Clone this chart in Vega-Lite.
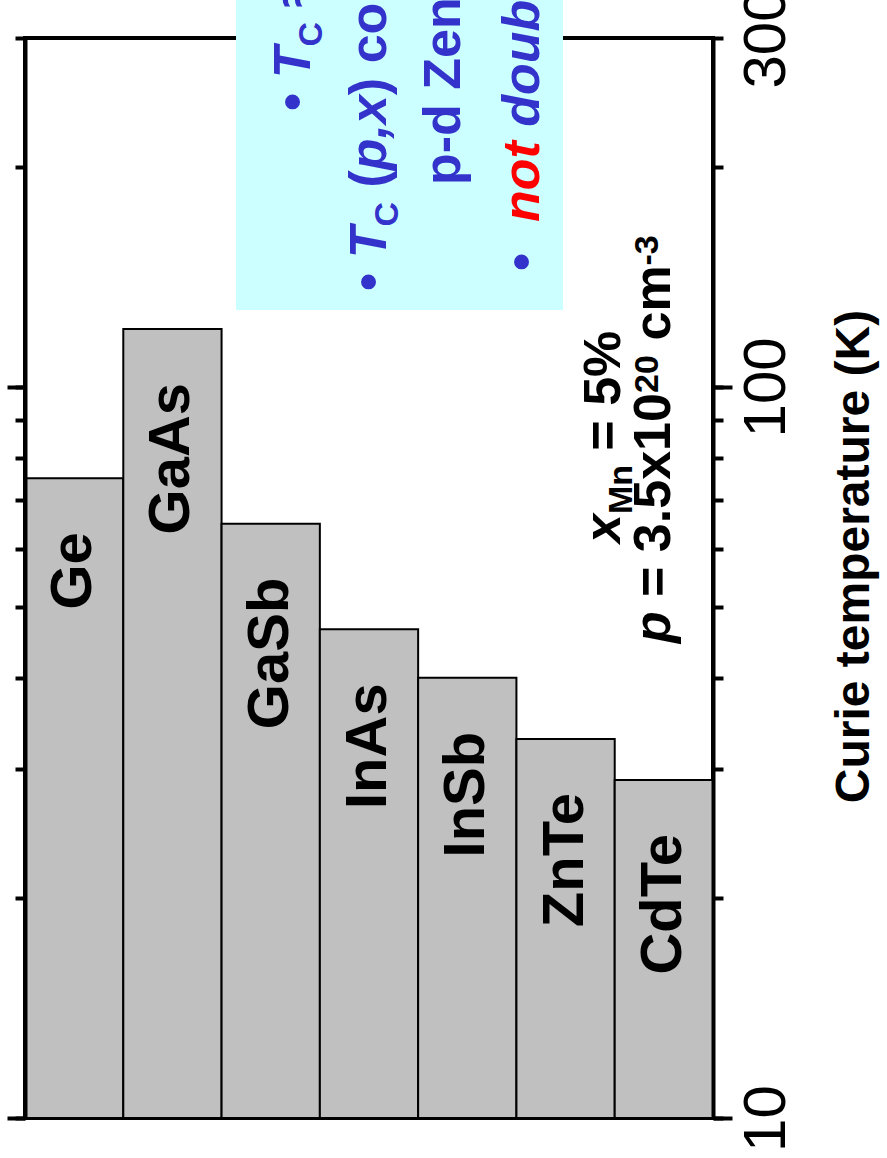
{
  "$schema": "https://vega.github.io/schema/vega-lite/v6.json",
  "width": 688,
  "height": 1080,
  "autosize": {"type": "none"},
  "padding": {"left": 25, "top": 38, "right": 174, "bottom": 40},
  "background": "white",
  "config": {
    "view": {"stroke": "black", "strokeWidth": 4},
    "font": "Liberation Sans",
    "text": {"font": "Liberation Sans"}
  },
  "datasets": {
    "bars": [
      {"material": "Ge", "tc": 75},
      {"material": "GaAs", "tc": 120},
      {"material": "GaSb", "tc": 65},
      {"material": "InAs", "tc": 46.6},
      {"material": "InSb", "tc": 40},
      {"material": "ZnTe", "tc": 33},
      {"material": "CdTe", "tc": 29}
    ],
    "box": [
      {"left": 2.147, "right": 5.474, "low": 127.4, "high": 400}
    ],
    "notes": [
      {"text": "•", "panel": "legend", "role": "plain", "kind": "normal", "pos": 2.900, "at": 238.4},
      {"text": "T", "panel": "legend", "role": "symbol", "kind": "normal", "pos": 2.900, "at": 264.2},
      {"text": "C", "panel": "legend", "role": "plain", "kind": "sub", "pos": 3.022, "at": 292.1},
      {"text": "≈ 300 K", "panel": "legend", "role": "plain", "kind": "normal", "pos": 2.900, "at": 330.2},
      {"text": "•", "panel": "legend", "role": "plain", "kind": "normal", "pos": 3.672, "at": 135.2},
      {"text": "T", "panel": "legend", "role": "symbol", "kind": "normal", "pos": 3.672, "at": 149.9},
      {"text": "C", "panel": "legend", "role": "plain", "kind": "sub", "pos": 3.794, "at": 165.7},
      {"text": "(", "panel": "legend", "role": "plain", "kind": "normal", "pos": 3.672, "at": 187.3},
      {"text": "p,x", "panel": "legend", "role": "symbol", "kind": "normal", "pos": 3.672, "at": 197.8},
      {"text": ") computed within", "panel": "legend", "role": "plain", "kind": "normal", "pos": 3.672, "at": 250.6},
      {"text": "p-d Zener model", "panel": "legend", "role": "plain", "kind": "normal", "pos": 4.425, "at": 188.8},
      {"text": "•", "panel": "legend", "role": "plain", "kind": "normal", "pos": 5.229, "at": 144.0},
      {"text": "not", "panel": "legend", "role": "negation", "kind": "normal", "pos": 5.229, "at": 168.0},
      {"text": "double exchange", "panel": "legend", "role": "claim", "kind": "normal", "pos": 5.229, "at": 226.9},
      {"text": "x", "panel": "note", "role": "symbol", "kind": "normal", "pos": 6.053, "at": 61.15},
      {"text": "Mn", "panel": "note", "role": "plain", "kind": "sub", "pos": 6.176, "at": 66.99},
      {"text": "= 5%", "panel": "note", "role": "plain", "kind": "normal", "pos": 6.053, "at": 81.8},
      {"text": "p", "panel": "note", "role": "symbol", "kind": "normal", "pos": 6.562, "at": 44.63},
      {"text": "= 3.5x10", "panel": "note", "role": "plain", "kind": "normal", "pos": 6.562, "at": 51.6},
      {"text": "20", "panel": "note", "role": "plain", "kind": "sup", "pos": 6.440, "at": 98.1},
      {"text": "cm", "panel": "note", "role": "plain", "kind": "normal", "pos": 6.562, "at": 115.7},
      {"text": "-3", "panel": "note", "role": "plain", "kind": "sup", "pos": 6.440, "at": 146.5}
    ]
  },
  "layer": [
    {
      "data": {"name": "bars"},
      "mark": {"type": "bar", "fill": "#c0c0c0", "stroke": "black", "strokeWidth": 2},
      "encoding": {
        "x": {"field": "material", "type": "nominal", "sort": null, "scale": {"paddingInner": 0, "paddingOuter": 0}, "axis": null},
        "y": {
          "field": "tc", "type": "quantitative",
          "scale": {"type": "log", "domain": [10, 300], "nice": false},
          "axis": {
            "orient": "right",
            "values": [10, 20, 30, 40, 50, 60, 70, 80, 90, 100, 200, 300],
            "grid": false,
            "domain": true, "domainWidth": 4, "domainColor": "black",
            "ticks": true, "tickSize": 10, "tickWidth": 4, "tickColor": "black",
            "labelExpr": "datum.value === 10 ? '10' : datum.value === 100 ? '100' : datum.value === 300 ? '300' : ''",
            "labelAngle": 270, "labelAlign": "center", "labelBaseline": "top",
            "labelFontSize": 60, "labelFont": "Liberation Sans", "labelColor": "black",
            "labelPadding": 14, "labelOverlap": false, "labelFlush": false, "labelBound": false,
            "title": "Curie temperature (K)",
            "titleFont": "Liberation Sans", "titleFontSize": 48, "titleFontWeight": "bold", "titleColor": "black",
            "titleAngle": 270, "titleBaseline": "top", "titlePadding": 34, "titleY": 518,
            "zindex": 1
          }
        },
        "y2": {"datum": 10}
      }
    },
    {
      "data": {"name": "bars"},
      "mark": {"type": "text", "angle": 270, "align": "right", "baseline": "middle", "dx": -54, "fontSize": 58, "fontWeight": "bold", "font": "Liberation Sans", "color": "black"},
      "encoding": {
        "x": {"field": "material", "type": "nominal", "sort": null, "scale": {"paddingInner": 0, "paddingOuter": 0}, "axis": null},
        "y": {
          "field": "tc", "type": "quantitative",
          "scale": {"type": "log", "domain": [10, 300], "nice": false},
          "axis": {
            "orient": "right", "values": [10, 100], "grid": false,
            "domain": false, "labels": false, "title": null,
            "ticks": true, "tickSize": 19, "tickWidth": 4, "tickColor": "black",
            "zindex": 1
          }
        },
        "text": {"field": "material"}
      }
    },
    {
      "data": {"name": "box"},
      "mark": {"type": "rect", "fill": "#ccffff"},
      "encoding": {
        "x": {"field": "left", "type": "quantitative", "scale": {"domain": [0, 7], "nice": false, "zero": false}, "axis": null},
        "x2": {"field": "right"},
        "y": {
          "field": "low", "type": "quantitative",
          "scale": {"type": "log", "domain": [10, 300], "nice": false},
          "axis": {
            "orient": "left",
            "values": [10, 20, 30, 40, 50, 60, 70, 80, 90, 100, 200, 300],
            "grid": false,
            "domain": true, "domainWidth": 4, "domainColor": "black",
            "labels": false, "title": null,
            "ticks": true, "tickSize": 10, "tickWidth": 4, "tickColor": "black",
            "zindex": 1
          }
        },
        "y2": {"field": "high"}
      }
    },
    {
      "data": {"name": "notes"},
      "transform": [{"filter": "datum.panel === 'legend' && datum.role === 'plain'"}],
      "mark": {"type": "text", "angle": 270, "align": "left", "baseline": "alphabetic", "fontWeight": "bold", "font": "Liberation Sans", "color": "#3333cc"},
      "encoding": {
        "x": {"field": "pos", "type": "quantitative", "scale": {"domain": [0, 7], "nice": false, "zero": false}, "axis": null},
        "y": {
          "field": "at", "type": "quantitative",
          "scale": {"type": "log", "domain": [10, 300], "nice": false},
          "axis": {
            "orient": "left", "values": [10, 100], "grid": false,
            "domain": false, "labels": false, "title": null,
            "ticks": true, "tickSize": 18, "tickWidth": 4, "tickColor": "black",
            "zindex": 1
          }
        },
        "text": {"field": "text"},
        "size": {"condition": {"test": "datum.kind !== 'normal'", "value": 34}, "value": 52}
      }
    },
    {
      "data": {"name": "notes"},
      "transform": [{"filter": "datum.panel === 'legend' && (datum.role === 'symbol' || datum.role === 'claim')"}],
      "mark": {"type": "text", "angle": 270, "align": "left", "baseline": "alphabetic", "fontWeight": "bold", "fontStyle": "italic", "font": "Liberation Sans", "color": "#3333cc"},
      "encoding": {
        "x": {"field": "pos", "type": "quantitative", "scale": {"domain": [0, 7], "nice": false, "zero": false}, "axis": null},
        "y": {"field": "at", "type": "quantitative", "scale": {"type": "log", "domain": [10, 300], "nice": false}, "axis": null},
        "text": {"field": "text"},
        "size": {"condition": {"test": "datum.kind !== 'normal'", "value": 34}, "value": 52}
      }
    },
    {
      "data": {"name": "notes"},
      "transform": [{"filter": "datum.panel === 'legend' && datum.role === 'negation'"}],
      "mark": {"type": "text", "angle": 270, "align": "left", "baseline": "alphabetic", "fontWeight": "bold", "fontStyle": "italic", "font": "Liberation Sans", "color": "#ff0000"},
      "encoding": {
        "x": {"field": "pos", "type": "quantitative", "scale": {"domain": [0, 7], "nice": false, "zero": false}, "axis": null},
        "y": {"field": "at", "type": "quantitative", "scale": {"type": "log", "domain": [10, 300], "nice": false}, "axis": null},
        "text": {"field": "text"},
        "size": {"value": 52}
      }
    },
    {
      "data": {"name": "notes"},
      "transform": [{"filter": "datum.panel === 'note' && datum.role === 'plain'"}],
      "mark": {"type": "text", "angle": 270, "align": "left", "baseline": "alphabetic", "fontWeight": "bold", "font": "Liberation Sans", "color": "black"},
      "encoding": {
        "x": {"field": "pos", "type": "quantitative", "scale": {"domain": [0, 7], "nice": false, "zero": false}, "axis": null},
        "y": {"field": "at", "type": "quantitative", "scale": {"type": "log", "domain": [10, 300], "nice": false}, "axis": null},
        "text": {"field": "text"},
        "size": {"condition": {"test": "datum.kind !== 'normal'", "value": 34}, "value": 52}
      }
    },
    {
      "data": {"name": "notes"},
      "transform": [{"filter": "datum.panel === 'note' && datum.role === 'symbol'"}],
      "mark": {"type": "text", "angle": 270, "align": "left", "baseline": "alphabetic", "fontWeight": "bold", "fontStyle": "italic", "font": "Liberation Sans", "color": "black"},
      "encoding": {
        "x": {"field": "pos", "type": "quantitative", "scale": {"domain": [0, 7], "nice": false, "zero": false}, "axis": null},
        "y": {"field": "at", "type": "quantitative", "scale": {"type": "log", "domain": [10, 300], "nice": false}, "axis": null},
        "text": {"field": "text"},
        "size": {"value": 52}
      }
    }
  ],
  "resolve": {"scale": {"x": "independent"}, "axis": {"x": "independent", "y": "independent"}}
}
